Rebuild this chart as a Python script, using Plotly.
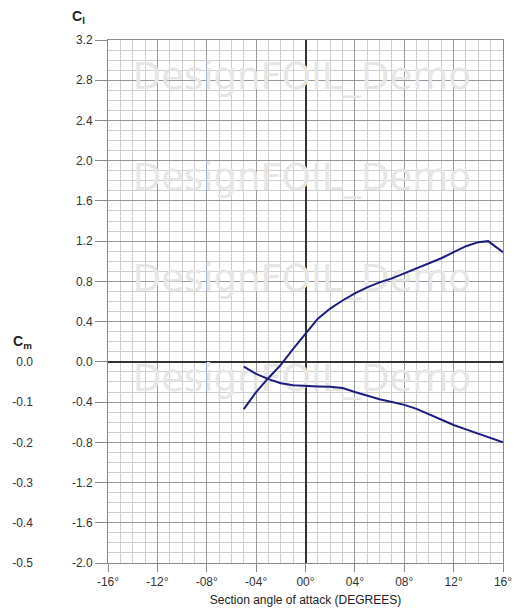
import plotly.graph_objects as go

# Section angle of attack (degrees) and lift coefficient
alpha_cl = [-5, -4.5, -4, -3, -2, -1, 0, 1, 2, 3, 4, 5, 6, 7, 8, 9, 10, 11, 12, 13, 14, 14.8, 16]
cl_vals = [-0.47, -0.38, -0.30, -0.16, -0.03, 0.13, 0.28, 0.43, 0.53, 0.61, 0.68, 0.74, 0.79,
           0.83, 0.88, 0.93, 0.98, 1.03, 1.09, 1.15, 1.19, 1.20, 1.09]

# Moment coefficient
alpha_cm = [-5, -4, -3, -2, -1, 0, 1, 2, 3, 4, 5, 6, 7, 8, 9, 10, 11, 12, 13, 14, 15, 16]
cm_vals = [-0.012, -0.030, -0.043, -0.053, -0.058, -0.060, -0.061, -0.062, -0.065, -0.075,
           -0.084, -0.093, -0.100, -0.107, -0.117, -0.131, -0.145, -0.157, -0.168, -0.179,
           -0.190, -0.200]

x_ticks = [-16, -12, -8, -4, 0, 4, 8, 12, 16]
x_ticktext = ["-16°", "-12°", "-08°", "-04°", "00°", "04°", "08°", "12°", "16°"]
cl_ticks = [3.2, 2.8, 2.4, 2.0, 1.6, 1.2, 0.8, 0.4, 0.0, -0.4, -0.8, -1.2, -1.6, -2.0]
cl_ticktext = ["3.2", "2.8", "2.4", "2.0", "1.6", "1.2", "0.8", "0.4", "0.0", "-0.4", "-0.8",
               "-1.2", "-1.6", "-2.0"]
cm_ticks = [0.0, -0.1, -0.2, -0.3, -0.4, -0.5]
cm_ticktext = ["0.0", "-0.1", "-0.2", "-0.3", "-0.4", "-0.5"]

watermark_text = "DesignFOIL_Demo"
watermark_x = [-0.3, -0.3, -0.3, -0.3]
watermark_y = [2.8, 1.8, 0.8, -0.2]

line_color = "#1c1c7e"
font_family = "Liberation Sans, Arial, sans-serif"
tick_font = dict(family=font_family, size=12, color="#333333")

fig = go.Figure()

fig.add_trace(go.Scatter(
    x=watermark_x, y=watermark_y, mode="text",
    text=[watermark_text] * len(watermark_y),
    textfont=dict(family="DejaVu Sans, sans-serif", size=37, color="#e6e6e6"),
    hoverinfo="skip", showlegend=False,
))

fig.add_trace(go.Scatter(
    x=alpha_cl, y=cl_vals, mode="lines",
    line=dict(color=line_color, width=2), showlegend=False,
))

fig.add_trace(go.Scatter(
    x=alpha_cm, y=cm_vals, mode="lines", yaxis="y2",
    line=dict(color=line_color, width=2), showlegend=False,
))

W = 515
ml, mr = 10, 12
pw = W - ml - mr
x0 = (108 - ml) / pw

fig.update_layout(
    width=515, height=609,
    margin=dict(l=ml, r=mr, t=40, b=46, autoexpand=False),
    paper_bgcolor="white", plot_bgcolor="white",
    xaxis=dict(
        domain=[x0, 1], range=[-16, 16], automargin=False,
        tickvals=x_ticks, ticktext=x_ticktext, tickfont=tick_font,
        ticks="outside", ticklen=8, tickcolor="#888888",
        showgrid=True, gridcolor="#9a9a9a", gridwidth=1,
        minor=dict(dtick=1, showgrid=True, gridcolor="#cfcfcf", ticks=""),
        zeroline=True, zerolinecolor="#333333", zerolinewidth=2,
        showline=True, linecolor="#888888", mirror=True,
        title=dict(text="Section angle of attack (DEGREES)",
                   font=dict(family=font_family, size=12, color="#222222"), standoff=7),
        fixedrange=True,
    ),
    yaxis=dict(
        range=[-2.0, 3.2], automargin=False,
        tickvals=cl_ticks, ticktext=cl_ticktext, tickfont=tick_font,
        ticks="outside", ticklen=12, tickcolor="#888888",
        showgrid=True, gridcolor="#9a9a9a", gridwidth=1,
        minor=dict(dtick=0.1, showgrid=True, gridcolor="#cfcfcf", ticks=""),
        zeroline=True, zerolinecolor="#333333", zerolinewidth=2,
        showline=True, linecolor="#888888", mirror=True,
        fixedrange=True,
    ),
    yaxis2=dict(
        range=[-0.5, 0.8], overlaying="y", anchor="free", side="left",
        position=(33 - ml) / pw, automargin=False,
        tickvals=cm_ticks, ticktext=cm_ticktext, tickfont=tick_font,
        ticks="", showgrid=False, zeroline=False, showline=False,
        fixedrange=True,
    ),
    annotations=[
        dict(text="<b>C<sub>l</sub></b>", xref="paper", yref="paper",
             x=(78 - ml) / pw, y=1, xanchor="center", yanchor="bottom", yshift=12,
             showarrow=False, font=dict(family=font_family, size=14, color="#222222")),
        dict(text="<b>C<sub>m</sub></b>", xref="paper", yref="y",
             x=(22 - ml) / pw, y=0.2, xanchor="center", yanchor="middle",
             showarrow=False, font=dict(family=font_family, size=14, color="#222222")),
    ],
)

fig.write_html("out.html", config={"displayModeBar": False},
               post_script="document.body.style.margin='0';")
